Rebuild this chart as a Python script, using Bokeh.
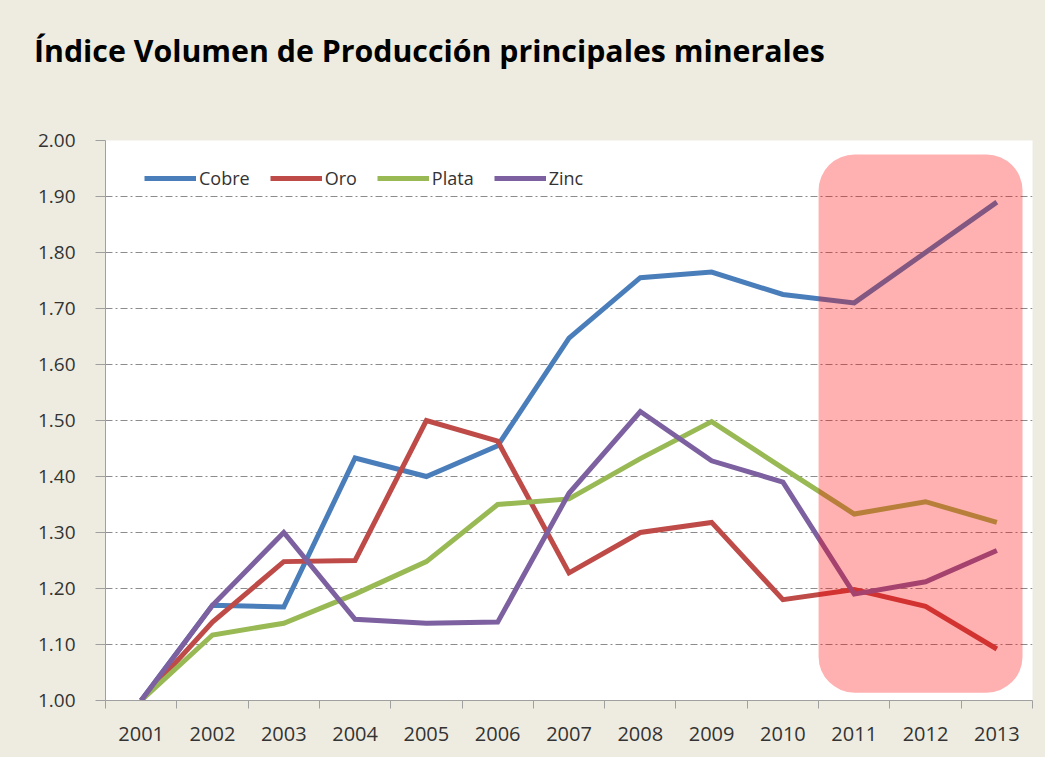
from bokeh.plotting import figure
from bokeh.models import FixedTicker, BoxAnnotation, Legend, LegendItem, ColumnDataSource, Div
from bokeh.layouts import column
from bokeh.embed import file_html
from bokeh.resources import INLINE

years = ["2001", "2002", "2003", "2004", "2005", "2006", "2007",
         "2008", "2009", "2010", "2011", "2012", "2013"]
cobre = [1.00, 1.17, 1.167, 1.433, 1.40, 1.455, 1.647, 1.755, 1.765, 1.725, 1.71, 1.80, 1.89]
oro = [1.00, 1.14, 1.248, 1.25, 1.50, 1.463, 1.228, 1.30, 1.318, 1.18, 1.198, 1.168, 1.092]
plata = [1.00, 1.117, 1.138, 1.19, 1.248, 1.35, 1.36, 1.432, 1.498, 1.415, 1.333, 1.355, 1.318]
zinc = [1.00, 1.17, 1.30, 1.145, 1.138, 1.14, 1.37, 1.516, 1.428, 1.39, 1.19, 1.212, 1.268]
series_names = ["Cobre", "Oro", "Plata", "Zinc"]
series_colors = ["#4A7EBB", "#BE4B48", "#98B954", "#7D60A0"]
y_ticks = [1.0, 1.1, 1.2, 1.3, 1.4, 1.5, 1.6, 1.7, 1.8, 1.9, 2.0]
title_text = "Índice Volumen de Producción principales minerales"

BEIGE = "#EEECE1"
FONT = "Open Sans"
HEAD_H = 120

xpos = [i + 0.5 for i in range(len(years))]

head = Div(
    text=(f'<div style="position:relative; left:34px; top:36px; margin:0; padding:0; '
          f'font-family:\'{FONT}\'; font-weight:bold; font-size:30.3px; line-height:30px; '
          f'color:black; white-space:nowrap;">{title_text}</div>'),
    width=1045, height=HEAD_H,
    styles={"background-color": BEIGE, "margin": "0", "padding": "0", "overflow": "hidden"},
)

p = figure(width=1045, height=757 - HEAD_H, output_backend="svg", toolbar_location=None,
           x_range=(0, len(years)), y_range=(1.0, 2.0),
           min_border_left=105, min_border_right=13, min_border_top=140 - HEAD_H,
           min_border_bottom=57)
p.background_fill_color = "white"
p.border_fill_color = BEIGE
p.outline_line_color = None

# x axis: labels at centers, tick marks at boundaries
p.xaxis.ticker = FixedTicker(ticks=xpos, minor_ticks=list(range(len(years) + 1)))
p.xaxis.major_label_overrides = {x: y for x, y in zip(xpos, years)}
p.xaxis.major_tick_line_color = None
p.xaxis.major_tick_in = 0
p.xaxis.major_tick_out = 0
p.xaxis.minor_tick_in = 0
p.xaxis.minor_tick_out = 8
p.xaxis.minor_tick_line_color = "#A0A0A0"
p.xaxis.axis_line_color = "#A0A0A0"
p.xaxis.major_label_text_font = FONT
p.xaxis.major_label_text_font_size = "20px"
p.xaxis.major_label_text_color = "#333333"
p.xaxis.major_label_standoff = 18

p.yaxis.ticker = FixedTicker(ticks=y_ticks)
p.yaxis.major_label_overrides = {t: f"{t:.2f}" for t in y_ticks}
p.yaxis.minor_tick_line_color = None
p.yaxis.major_tick_in = 0
p.yaxis.major_tick_out = 10
p.yaxis.major_tick_line_color = "#A0A0A0"
p.yaxis.axis_line_color = "#A0A0A0"
p.yaxis.major_label_text_font = FONT
p.yaxis.major_label_text_font_size = "19px"
p.yaxis.major_label_text_color = "#333333"
p.yaxis.major_label_standoff = 20

p.xgrid.grid_line_color = None
p.ygrid.ticker = FixedTicker(ticks=y_ticks)
p.ygrid.grid_line_color = "#8C8C8C"
p.ygrid.grid_line_dash = "7 3 2 3"
p.ygrid.grid_line_width = 1

items = []
for name, vals, col in zip(series_names, [cobre, oro, plata, zinc], series_colors):
    src = ColumnDataSource(dict(x=xpos, y=vals))
    r = p.line("x", "y", source=src, line_color=col, line_width=5, line_join="miter")
    items.append(LegendItem(label=name, renderers=[r]))

legend = Legend(items=items, orientation="horizontal", location=(39, 510),
                background_fill_alpha=0, border_line_color=None,
                glyph_width=52, glyph_height=14, label_standoff=3, spacing=20,
                label_text_font=FONT, label_text_font_size="18px",
                label_text_color="#333333", margin=0, padding=0)
p.add_layout(legend)

box = BoxAnnotation(left=10.0, right=12.86, bottom=1.014, top=1.975,
                    fill_color="#FF0000", fill_alpha=0.31, line_color=None,
                    border_radius=36)
p.add_layout(box)

layout = column(head, p, spacing=0, styles={"background-color": BEIGE})
open("out.html", "w").write(file_html(layout, INLINE))
